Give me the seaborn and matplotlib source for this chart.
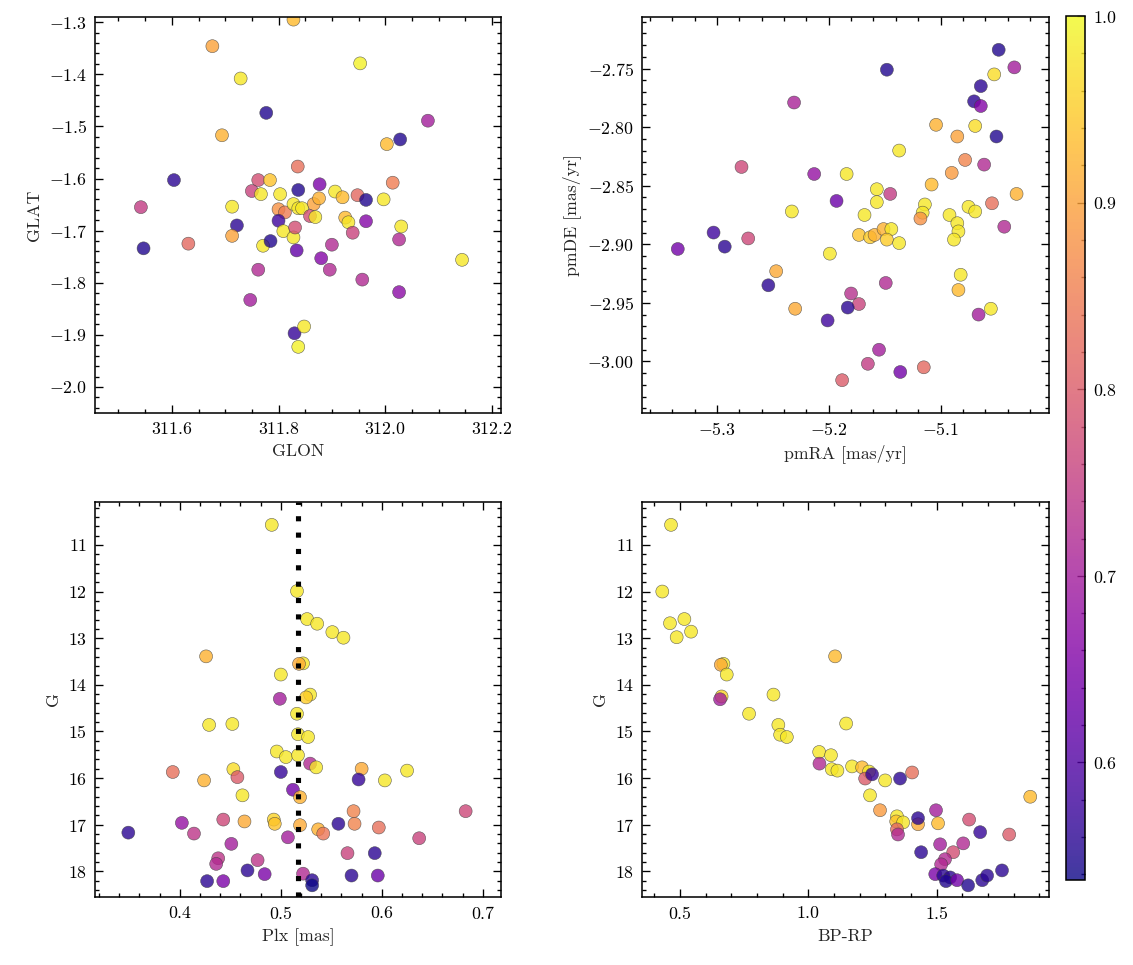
import numpy as np
import pandas as pd
import matplotlib
matplotlib.use("Agg")
import matplotlib.pyplot as plt
from matplotlib.ticker import MultipleLocator, AutoMinorLocator
import seaborn as sns

# ---------------- data ----------------
glon = [311.828, 311.676, 311.953, 311.729, 311.777, 311.694, 312.080, 312.028, 312.003, 311.604,
        311.542, 311.547, 311.631, 311.713, 311.722, 311.713, 311.762, 311.784, 311.750, 311.767,
        311.803, 311.837, 311.836, 311.800, 311.812, 311.828, 311.837, 311.800, 311.809, 311.828,
        311.771, 311.785, 311.831, 311.834, 311.762, 311.747, 311.830, 311.848, 311.837, 311.877,
        311.906, 311.920, 311.948, 311.964, 311.997, 312.014, 311.866, 311.876, 311.844, 311.859,
        311.869, 311.925, 311.931, 311.964, 312.030, 312.026, 311.939, 311.900, 311.880, 311.896,
        311.957, 312.026, 312.144]
glat = [-1.295, -1.346, -1.379, -1.408, -1.474, -1.517, -1.489, -1.525, -1.534, -1.603,
        -1.655, -1.734, -1.725, -1.654, -1.690, -1.710, -1.603, -1.603, -1.624, -1.630,
        -1.630, -1.622, -1.577, -1.659, -1.665, -1.649, -1.657, -1.681, -1.701, -1.713,
        -1.729, -1.720, -1.694, -1.738, -1.775, -1.833, -1.897, -1.884, -1.923, -1.611,
        -1.625, -1.636, -1.632, -1.641, -1.640, -1.608, -1.649, -1.638, -1.657, -1.672,
        -1.674, -1.675, -1.684, -1.682, -1.692, -1.717, -1.704, -1.727, -1.753, -1.775,
        -1.794, -1.818, -1.756]
prob_pos = [0.93, 0.90, 0.99, 0.98, 0.55, 0.92, 0.70, 0.55, 0.93, 0.56,
            0.75, 0.55, 0.82, 0.98, 0.56, 0.90, 0.78, 0.94, 0.76, 0.98,
            0.98, 0.55, 0.83, 0.88, 0.85, 0.98, 0.98, 0.58, 0.98, 0.98,
            0.98, 0.55, 0.78, 0.62, 0.72, 0.70, 0.57, 0.98, 0.99, 0.65,
            0.98, 0.93, 0.82, 0.55, 0.98, 0.85, 0.90, 0.92, 0.98, 0.78,
            0.98, 0.93, 0.98, 0.66, 0.98, 0.72, 0.76, 0.72, 0.66, 0.72,
            0.72, 0.67, 0.98]

pmra = [-5.048, -5.034, -5.052, -5.064, -5.070, -5.064, -5.148, -5.231, -5.104, -5.085,
        -5.069, -5.050, -5.137, -5.078, -5.061, -5.090, -5.108, -5.278, -5.213, -5.184,
        -5.193, -5.233, -5.157, -5.145, -5.157, -5.168, -5.114, -5.116, -5.118, -5.075,
        -5.069, -5.054, -5.032, -5.092, -5.085, -5.084, -5.088, -5.043, -5.173, -5.163,
        -5.159, -5.151, -5.144, -5.148, -5.137, -5.199, -5.303, -5.293, -5.272, -5.335,
        -5.247, -5.254, -5.230, -5.201, -5.188, -5.082, -5.084, -5.055, -5.066, -5.149,
        -5.180, -5.173, -5.183, -5.155, -5.165, -5.136, -5.115]
pmde = [-2.734, -2.749, -2.755, -2.765, -2.778, -2.782, -2.751, -2.779, -2.798, -2.808,
        -2.799, -2.808, -2.820, -2.828, -2.832, -2.839, -2.849, -2.834, -2.840, -2.840,
        -2.863, -2.872, -2.853, -2.857, -2.864, -2.875, -2.866, -2.873, -2.878, -2.868,
        -2.872, -2.865, -2.857, -2.875, -2.882, -2.889, -2.896, -2.885, -2.892, -2.894,
        -2.892, -2.887, -2.887, -2.896, -2.899, -2.908, -2.890, -2.902, -2.895, -2.904,
        -2.923, -2.935, -2.955, -2.965, -3.016, -2.926, -2.939, -2.955, -2.960, -2.933,
        -2.942, -2.951, -2.954, -2.990, -3.002, -3.009, -3.005]
prob_pm = [0.55, 0.70, 0.97, 0.56, 0.56, 0.66, 0.55, 0.71, 0.92, 0.90,
           0.97, 0.55, 0.98, 0.86, 0.72, 0.89, 0.93, 0.77, 0.68, 0.98,
           0.63, 0.98, 0.98, 0.75, 0.98, 0.98, 0.98, 0.98, 0.88, 0.98,
           0.98, 0.83, 0.92, 0.98, 0.98, 0.98, 0.98, 0.72, 0.94, 0.95,
           0.92, 0.92, 0.98, 0.95, 0.98, 0.98, 0.58, 0.56, 0.77, 0.64,
           0.91, 0.56, 0.91, 0.58, 0.80, 0.98, 0.93, 0.98, 0.70, 0.72,
           0.73, 0.76, 0.56, 0.70, 0.75, 0.64, 0.82]

plx = [0.491, 0.516, 0.426, 0.500, 0.499, 0.522, 0.518, 0.429, 0.452, 0.516,
       0.517, 0.496, 0.505, 0.517, 0.393, 0.424, 0.453, 0.457, 0.462, 0.500,
       0.512, 0.519, 0.402, 0.414, 0.349, 0.443, 0.464, 0.493, 0.494, 0.507,
       0.519, 0.451, 0.438, 0.436, 0.477, 0.467, 0.484, 0.427, 0.443, 0.522,
       0.526, 0.536, 0.551, 0.562, 0.529, 0.525, 0.527, 0.529, 0.535, 0.580,
       0.577, 0.603, 0.625, 0.572, 0.683, 0.557, 0.573, 0.597, 0.537, 0.542,
       0.637, 0.566, 0.593, 0.531, 0.531, 0.570, 0.596]
g_plx = [10.57, 11.99, 13.39, 13.78, 14.30, 13.54, 13.55, 14.86, 14.84, 14.62,
         15.06, 15.43, 15.55, 15.51, 15.87, 16.05, 15.81, 15.98, 16.37, 15.87,
         16.25, 16.41, 16.96, 17.19, 17.17, 16.89, 16.93, 16.89, 16.98, 17.27,
         17.01, 17.41, 17.72, 17.84, 17.76, 17.98, 18.06, 18.21, 18.21, 18.05,
         12.59, 12.69, 12.87, 12.99, 14.21, 14.27, 15.12, 15.69, 15.77, 15.80,
         16.03, 16.05, 15.84, 16.71, 16.71, 16.98, 16.98, 17.06, 17.10, 17.19,
         17.29, 17.61, 17.61, 18.19, 18.30, 18.09, 18.09]
prob_plx = [0.98, 0.98, 0.92, 0.98, 0.70, 0.98, 0.91, 0.98, 0.98, 0.98,
            0.98, 0.98, 0.98, 0.98, 0.83, 0.92, 0.97, 0.80, 0.98, 0.57,
            0.64, 0.92, 0.68, 0.74, 0.56, 0.77, 0.91, 0.96, 0.94, 0.70,
            0.91, 0.70, 0.74, 0.72, 0.74, 0.56, 0.65, 0.56, 0.65, 0.72,
            0.98, 0.98, 0.98, 0.98, 0.98, 0.95, 0.98, 0.72, 0.98, 0.91,
            0.57, 0.98, 0.98, 0.86, 0.77, 0.56, 0.86, 0.83, 0.92, 0.84,
            0.76, 0.76, 0.56, 0.56, 0.53, 0.56, 0.63]
plx_mean = 0.517

bprp = [0.465, 0.431, 0.461, 0.517, 0.487, 0.543, 0.669, 0.659, 0.682, 0.662,
        0.656, 0.864, 0.769, 0.883, 0.890, 0.916, 1.104, 1.147, 1.042, 1.088,
        1.043, 1.091, 1.113, 1.170, 1.209, 1.236, 1.221, 1.248, 1.299, 1.357,
        1.404, 1.240, 1.279, 1.345, 1.342, 1.369, 1.345, 1.349, 1.427, 1.427,
        1.497, 1.505, 1.626, 1.669, 1.782, 1.603, 1.513, 1.439, 1.564, 1.532,
        1.517, 1.494, 1.525, 1.552, 1.536, 1.579, 1.622, 1.677, 1.696, 1.754,
        1.864]
g_cmd = [10.57, 12.00, 12.68, 12.59, 12.98, 12.86, 13.55, 13.57, 13.78, 14.25,
         14.31, 14.21, 14.62, 14.86, 15.07, 15.12, 13.39, 14.83, 15.44, 15.51,
         15.69, 15.81, 15.84, 15.75, 15.77, 15.86, 16.01, 15.92, 16.05, 16.01,
         15.88, 16.37, 16.69, 16.82, 16.93, 16.95, 17.10, 17.21, 16.99, 16.86,
         16.69, 16.97, 16.89, 17.16, 17.21, 17.40, 17.42, 17.59, 17.59, 17.74,
         17.85, 18.06, 18.09, 18.13, 18.21, 18.19, 18.30, 18.19, 18.09, 17.98,
         16.40]
prob_cmd = [0.98, 0.98, 0.98, 0.98, 0.98, 0.98, 0.98, 0.91, 0.98, 0.96,
            0.70, 0.98, 0.98, 0.98, 0.98, 0.98, 0.93, 0.98, 0.98, 0.98,
            0.72, 0.98, 0.98, 0.98, 0.93, 0.98, 0.80, 0.57, 0.98, 0.56,
            0.83, 0.98, 0.89, 0.98, 0.94, 0.98, 0.82, 0.72, 0.91, 0.56,
            0.70, 0.93, 0.78, 0.57, 0.80, 0.72, 0.70, 0.56, 0.78, 0.72,
            0.72, 0.65, 0.56, 0.56, 0.55, 0.64, 0.55, 0.56, 0.56, 0.56,
            0.93]

prob_min, prob_max = 0.537, 1.0

# ---------------- style ----------------
sns.set_style("ticks")
plt.rcParams.update({
    "font.family": "serif",
    "font.serif": ["cmr10"],
    "mathtext.fontset": "cm",
    "axes.formatter.use_mathtext": True,
    "axes.unicode_minus": True,
    "font.size": 8,
    "axes.labelsize": 8,
    "xtick.labelsize": 8,
    "ytick.labelsize": 8,
    "xtick.direction": "in",
    "ytick.direction": "in",
    "xtick.top": True,
    "ytick.right": True,
    "xtick.major.size": 3.5,
    "ytick.major.size": 3.5,
    "xtick.minor.size": 1.8,
    "ytick.minor.size": 1.8,
    "xtick.major.width": 0.6,
    "ytick.major.width": 0.6,
    "xtick.minor.width": 0.6,
    "ytick.minor.width": 0.6,
    "axes.linewidth": 0.7,
    "axes.edgecolor": "black",
    "xtick.color": "black",
    "ytick.color": "black",
})

W, H, DPI = 1133, 965, 160
fig = plt.figure(figsize=(W / DPI, H / DPI), dpi=DPI)

def frac(l, t, r, b):
    return [l / W, 1 - b / H, (r - l) / W, (b - t) / H]

ax1 = fig.add_axes(frac(95, 17, 501, 413))
ax2 = fig.add_axes(frac(642, 17, 1049, 413))
ax3 = fig.add_axes(frac(95, 502, 501, 897))
ax4 = fig.add_axes(frac(642, 502, 1049, 897))
cax = fig.add_axes(frac(1066, 16, 1085, 880))

scatter_kw = dict(hue_norm=(prob_min, prob_max), palette="plasma", s=34,
                  alpha=0.8, edgecolor=(0.25, 0.25, 0.25), linewidth=0.25, legend=False)

df1 = pd.DataFrame({"GLON": glon, "GLAT": glat, "p": prob_pos})
df2 = pd.DataFrame({"pmRA": pmra, "pmDE": pmde, "p": prob_pm})
df3 = pd.DataFrame({"Plx": plx, "G": g_plx, "p": prob_plx})
df4 = pd.DataFrame({"BPRP": bprp, "G": g_cmd, "p": prob_cmd})

sns.scatterplot(data=df1, x="GLON", y="GLAT", hue="p", ax=ax1, **scatter_kw)
sns.scatterplot(data=df2, x="pmRA", y="pmDE", hue="p", ax=ax2, **scatter_kw)
ax3.axvline(plx_mean, color="black", linewidth=2.3, linestyle=(0, (1, 2.2)), zorder=3)
sns.scatterplot(data=df3, x="Plx", y="G", hue="p", ax=ax3, **scatter_kw)
sns.scatterplot(data=df4, x="BPRP", y="G", hue="p", ax=ax4, **scatter_kw)

ax1.set_xlim(311.456, 312.217)
ax1.set_ylim(-2.05, -1.29)
ax1.xaxis.set_major_locator(MultipleLocator(0.2))
ax1.yaxis.set_major_locator(MultipleLocator(0.1))
ax1.set_xlabel("GLON")
ax1.set_ylabel("GLAT")

ax2.set_xlim(-5.367, -5.003)
ax2.set_ylim(-3.044, -2.706)
ax2.xaxis.set_major_locator(MultipleLocator(0.1))
ax2.yaxis.set_major_locator(MultipleLocator(0.05))
ax2.set_xlabel("pmRA [mas/yr]")
ax2.set_ylabel("pmDE [mas/yr]")

ax3.set_xlim(0.316, 0.718)
ax3.set_ylim(18.55, 10.08)
ax3.xaxis.set_major_locator(MultipleLocator(0.1))
ax3.yaxis.set_major_locator(MultipleLocator(1))
ax3.set_xlabel("Plx [mas]")
ax3.set_ylabel("G")

ax4.set_xlim(0.352, 1.937)
ax4.set_ylim(18.55, 10.08)
ax4.xaxis.set_major_locator(MultipleLocator(0.5))
ax4.yaxis.set_major_locator(MultipleLocator(1))
ax4.set_xlabel("BP-RP")
ax4.set_ylabel("G")

for ax in (ax1, ax2, ax3, ax4):
    ax.xaxis.set_minor_locator(AutoMinorLocator())
    ax.yaxis.set_minor_locator(AutoMinorLocator())
    ax.tick_params(which="both", direction="in", top=True, right=True)
    ax.xaxis.labelpad = 3
    ax.yaxis.labelpad = 3

sm = plt.cm.ScalarMappable(cmap="plasma", norm=plt.Normalize(prob_min, prob_max))
cb = fig.colorbar(sm, cax=cax)
cb.solids.set_alpha(0.8)
cb.outline.set_linewidth(0.7)
cb.ax.yaxis.set_major_locator(MultipleLocator(0.1))
cb.ax.yaxis.set_minor_locator(AutoMinorLocator())
cb.ax.tick_params(which="both", direction="in")

fig.savefig("out.png", dpi=DPI)
